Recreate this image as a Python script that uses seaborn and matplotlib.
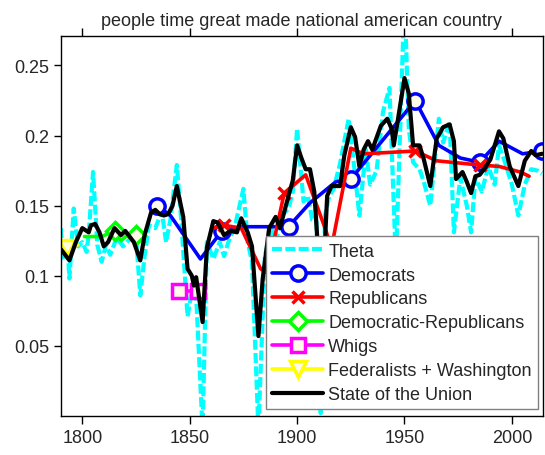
import matplotlib
matplotlib.use("Agg")
import matplotlib.pyplot as plt
import seaborn as sns

# State of the Union (black)
sotu_years = [1790, 1791, 1794, 1797, 1800, 1803, 1804, 1806, 1808, 1810, 1812, 1815,
              1818, 1820, 1822, 1824, 1827, 1829, 1832, 1834, 1836, 1838, 1840, 1842,
              1844, 1847, 1849, 1851, 1852, 1853, 1856, 1858, 1861, 1863, 1866, 1869,
              1872, 1874, 1877, 1879, 1882, 1884, 1887, 1890, 1892, 1896, 1898, 1900,
              1902, 1904, 1906, 1908, 1909, 1911, 1913, 1914, 1916, 1920, 1922, 1925,
              1927, 1929, 1931, 1933, 1935, 1939, 1942, 1944, 1945, 1947, 1950, 1952,
              1954, 1957, 1959, 1962, 1965, 1968, 1971, 1973, 1974, 1977, 1979, 1981,
              1983, 1985, 1987, 1990, 1994, 1996, 1999, 2003, 2006, 2009, 2011, 2014]
sotu_vals = [0.119, 0.117, 0.111, 0.124, 0.134, 0.131, 0.136, 0.137, 0.131, 0.121, 0.124, 0.134,
             0.129, 0.132, 0.128, 0.124, 0.111, 0.129, 0.145, 0.147, 0.144, 0.143, 0.144, 0.150,
             0.164, 0.142, 0.105, 0.100, 0.093, 0.099, 0.067, 0.120, 0.139, 0.138, 0.129, 0.132,
             0.131, 0.141, 0.131, 0.121, 0.057, 0.098, 0.134, 0.142, 0.134, 0.157, 0.168, 0.193,
             0.184, 0.176, 0.176, 0.160, 0.136, 0.090, 0.125, 0.157, 0.164, 0.164, 0.186, 0.206,
             0.199, 0.178, 0.190, 0.196, 0.190, 0.207, 0.212, 0.205, 0.193, 0.212, 0.241, 0.230,
             0.193, 0.193, 0.183, 0.164, 0.198, 0.206, 0.208, 0.196, 0.169, 0.174, 0.167, 0.159,
             0.171, 0.172, 0.176, 0.183, 0.203, 0.198, 0.178, 0.164, 0.182, 0.189, 0.186, 0.187]

# Theta (cyan, dashed)
theta_years = [1790, 1791, 1793, 1794, 1796, 1798, 1800, 1802, 1803, 1805, 1807, 1809,
               1811, 1813, 1816, 1819, 1822, 1825, 1827, 1829, 1831, 1834, 1837, 1839,
               1841, 1844, 1846, 1849, 1851, 1853, 1856, 1858, 1861, 1864, 1866, 1868,
               1871, 1875, 1877, 1879, 1882, 1885, 1888, 1890, 1893, 1896, 1898, 1900,
               1903, 1905, 1907, 1909, 1911, 1913, 1915, 1917, 1920, 1924, 1927, 1929,
               1932, 1934, 1937, 1940, 1943, 1946, 1950, 1952, 1954, 1957, 1959, 1962,
               1966, 1968, 1971, 1973, 1976, 1979, 1981, 1983, 1986, 1989, 1992, 1994,
               1997, 2000, 2003, 2006, 2009, 2012, 2014]
theta_vals = [0.134, 0.113, 0.124, 0.098, 0.148, 0.121, 0.124, 0.117, 0.130, 0.174, 0.122, 0.110,
              0.122, 0.115, 0.127, 0.121, 0.126, 0.128, 0.086, 0.114, 0.136, 0.134, 0.146, 0.124,
              0.140, 0.179, 0.141, 0.071, 0.089, 0.086, -0.01, 0.124, 0.112, 0.124, 0.114, 0.124,
              0.135, 0.162, 0.124, 0.110, -0.01, 0.114, 0.134, 0.124, 0.143, 0.148, 0.160, 0.205,
              0.153, 0.157, 0.140, 0.139, 0.002, 0.143, 0.157, 0.162, 0.180, 0.212, 0.172, 0.143,
              0.190, 0.165, 0.175, 0.217, 0.234, 0.110, 0.300, 0.205, 0.181, 0.176, 0.167, 0.150,
              0.212, 0.195, 0.210, 0.131, 0.170, 0.150, 0.131, 0.170, 0.160, 0.178, 0.165, 0.193,
              0.180, 0.165, 0.143, 0.165, 0.176, 0.175, 0.173]

# party series
dem_years = [1835, 1841, 1855, 1865, 1875, 1896, 1906, 1918, 1925, 1955, 1966, 1976, 1985, 1994, 2005, 2014]
dem_vals = [0.150, 0.143, 0.112, 0.132, 0.135, 0.135, 0.152, 0.167, 0.169, 0.225, 0.193, 0.184, 0.181, 0.196, 0.187, 0.189]
dem_marks = [1835, 1865, 1896, 1925, 1955, 1985, 2014]

rep_years = [1861, 1866, 1874, 1883, 1886, 1894, 1904, 1913, 1916, 1925, 1931, 1955, 1965, 1985, 1994, 2004, 2008]
rep_vals = [0.134, 0.136, 0.134, 0.105, 0.102, 0.159, 0.172, 0.134, 0.120, 0.191, 0.187, 0.189, 0.182, 0.179, 0.178, 0.174, 0.171]
rep_marks = [1866, 1894, 1955, 1985]

dr_years = [1801, 1809, 1815, 1818, 1821, 1825, 1829]
dr_vals = [0.128, 0.128, 0.132, 0.125, 0.129, 0.129, 0.124]
dr_marks = [1815, 1825]

whig_years = [1845, 1854]
whig_vals = [0.089, 0.089]
whig_marks = [1845, 1854]

fed_years = [1790, 1793, 1798]
fed_vals = [0.121, 0.120, 0.122]
fed_marks = [1793]

title = "people time great made national american country"
xticks = [1800, 1850, 1900, 1950, 2000]
yticks = [0.05, 0.1, 0.15, 0.2, 0.25]
ytick_labels = ["0.05", "0.1", "0.15", "0.2", "0.25"]

sns.set_style("white")
plt.rcParams["font.family"] = ["Liberation Sans", "DejaVu Sans"]
plt.rcParams["font.size"] = 13

fig = plt.figure(figsize=(5.45, 4.56), dpi=100)
ax = fig.add_axes([0.1116, 0.0855, 0.8848, 0.8333])

cream = "#fffbe6"

sns.lineplot(x=theta_years, y=theta_vals, ax=ax, color="cyan", lw=3,
             linestyle=(0, (2.4, 0.8)), label="Theta", estimator=None)


def party(years, vals, marks, color, marker, ms, label):
    idx = [years.index(m) for m in marks]
    sns.lineplot(x=years, y=vals, ax=ax, color=color, lw=2.6, marker=marker,
                 markersize=ms, markeredgewidth=2.5, markeredgecolor=color,
                 markerfacecolor=cream, markevery=idx, label=label, estimator=None)


party(dem_years, dem_vals, dem_marks, "blue", "o", 11, "Democrats")
party(rep_years, rep_vals, rep_marks, "red", "x", 9, "Republicans")
party(dr_years, dr_vals, dr_marks, "lime", "D", 9, "Democratic-Republicans")
party(whig_years, whig_vals, whig_marks, "magenta", "s", 10, "Whigs")
party(fed_years, fed_vals, fed_marks, "yellow", "v", 11, "Federalists + Washington")

sns.lineplot(x=sotu_years, y=sotu_vals, ax=ax, color="black", lw=3,
             label="State of the Union", estimator=None)

ax.set_xlim(1790, 2014.5)
ax.set_ylim(0, 0.271)
ax.set_xticks(xticks)
ax.set_yticks(yticks)
ax.set_yticklabels(ytick_labels)
ax.set_xlabel("")
ax.set_ylabel("")
ax.tick_params(axis="x", which="both", top=True, bottom=True, direction="out",
               length=6, width=1, color="black", labelsize=13)
ax.tick_params(axis="y", left=True, right=False, direction="out",
               length=5, width=1, color="black", labelsize=13)
for s in ax.spines.values():
    s.set_color("black")
    s.set_linewidth(1)
ax.set_title(title, fontsize=13, pad=8)

leg = ax.legend(loc="lower right", bbox_to_anchor=(0.99, 0.018), fontsize=13,
                frameon=True, fancybox=False, edgecolor="#808080", framealpha=1,
                handlelength=2.8, handletextpad=0.3, labelspacing=0.38,
                borderpad=0.35, borderaxespad=0)
leg.get_frame().set_linewidth(1)

fig.savefig("out.png", dpi=100)
